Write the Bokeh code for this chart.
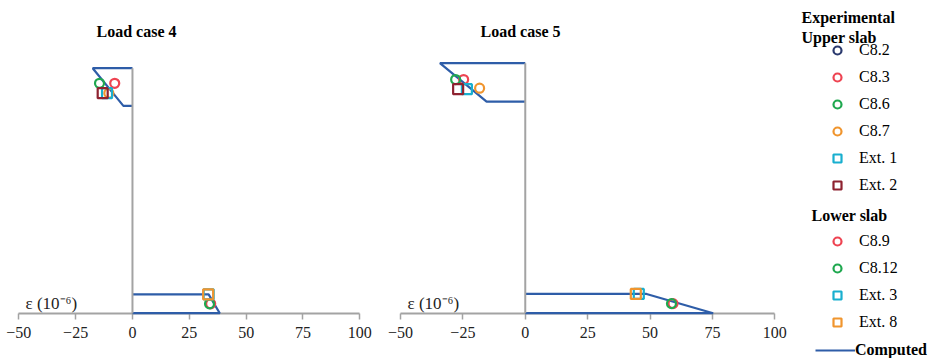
from bokeh.plotting import figure
from bokeh.layouts import row
from bokeh.models import Range1d, FixedTicker, Label, Legend, LegendItem
from bokeh.embed import file_html
from bokeh.resources import INLINE

# ---------------- data ----------------
TICKS = [-50, -25, 0, 25, 50, 75, 100]
TICK_OVERRIDES = {-50: "\u221250", -25: "\u221225"}

# relative heights of the slab faces
H_LOWER_BOT, H_LOWER_TOP, H_UPPER_BOT, H_UPPER_TOP = 0.0, 0.2, 2.2, 2.6

# computed strain profiles (x = strain 1e-6, y = height)
lc4_upper_x = [0, -17.5, -4.0, 0]
lc4_upper_y = [2.6, 2.6, 2.2, 2.2]
lc4_lower_x = [0, 33.5, 38.4, 0]
lc4_lower_y = [0.2, 0.2, 0.0, 0.0]

lc5_upper_x = [0, -34.2, -15.5, 0]
lc5_upper_y = [2.6, 2.6, 2.2, 2.2]
lc5_lower_x = [0, 48.6, 75.3, 0]
lc5_lower_y = [0.2, 0.2, 0.0, 0.0]

# experimental gauges (None = no reading plotted)
upper_names = ["C8.2", "C8.3", "C8.6", "C8.7", "Ext. 1", "Ext. 2"]
upper_markers = ["circle", "circle", "circle", "circle", "square", "square"]
upper_colors = ["#2B3A6E", "#EE4452", "#1FA84F", "#F0952E", "#19AFCF", "#8E2230"]
lc4_upper_eps = [None, -7.8, -14.5, -10.4, -11.2, -13.1]
lc4_upper_h = [None, 2.44, 2.44, 2.335, 2.335, 2.335]
lc5_upper_eps = [None, -24.7, -27.9, -18.3, -23.4, -26.9]
lc5_upper_h = [None, 2.43, 2.43, 2.34, 2.33, 2.33]

lower_names = ["C8.9", "C8.12", "Ext. 3", "Ext. 8"]
lower_markers = ["circle", "circle", "square", "square"]
lower_colors = ["#EE4452", "#1FA84F", "#19AFCF", "#F0952E"]
lc4_lower_eps = [34.4, 33.9, 33.5, 33.3]
lc4_lower_h = [0.1, 0.1, 0.2, 0.2]
lc5_lower_eps = [59.2, 58.6, 45.5, 44.3]
lc5_lower_h = [0.1, 0.1, 0.2, 0.2]

BLUE = "#2E5DA8"
GRAY = "#A3A3A3"
FONT = "Liberation Serif"
NAN = float("nan")


def make_panel(width, xr, yr, title, title_x, eps_x,
               up_x, up_y, lo_x, lo_y, u_eps, u_h, l_eps, l_h):
    p = figure(width=width, height=358, x_range=Range1d(*xr), y_range=Range1d(*yr),
               output_backend="svg", toolbar_location=None,
               min_border=0, min_border_left=0, min_border_right=0,
               min_border_top=0, min_border_bottom=0)
    p.outline_line_color = None
    p.grid.visible = False
    p.yaxis.visible = False
    p.background_fill_color = "white"
    p.border_fill_color = "white"

    ax = p.xaxis[0]
    ax.fixed_location = 0
    ax.bounds = (TICKS[0], TICKS[-1])
    ax.ticker = FixedTicker(ticks=TICKS)
    ax.major_label_overrides = TICK_OVERRIDES
    ax.axis_line_color = GRAY
    ax.axis_line_width = 2
    ax.major_tick_line_color = GRAY
    ax.major_tick_line_width = 1.5
    ax.major_tick_out = 6
    ax.major_tick_in = 0
    ax.minor_tick_line_color = None
    ax.major_label_text_font = FONT
    ax.major_label_text_font_size = "16px"
    ax.major_label_text_color = "#222222"
    ax.major_label_standoff = 8
    ax.level = "underlay"

    comp = p.line(up_x, up_y, line_color=BLUE, line_width=2.2)
    p.line(lo_x, lo_y, line_color=BLUE, line_width=2.2)
    p.line([0, 0], [H_LOWER_BOT, H_UPPER_TOP], line_color=GRAY, line_width=2)

    rends = {}
    for name, mk, col, ex, hy in zip(upper_names, upper_markers, upper_colors, u_eps, u_h):
        xs = [NAN] if ex is None else [ex]
        ys = [NAN] if hy is None else [hy]
        rends[("u", name)] = p.scatter(xs, ys, marker=mk, size=9 if mk == "circle" else 10,
                                       line_color=col, line_width=2.2, fill_color=None)
    for name, mk, col, ex, hy in zip(lower_names, lower_markers, lower_colors, l_eps, l_h):
        rends[("l", name)] = p.scatter([ex], [hy], marker=mk, size=9 if mk == "circle" else 10,
                                       line_color=col, line_width=2.2, fill_color=None)

    p.add_layout(Label(x=title_x, y=327, x_units="screen", y_units="screen", text=title,
                       text_font=FONT, text_font_style="bold", text_font_size="16px",
                       text_align="center", text_baseline="middle", text_color="black"))
    p.add_layout(Label(x=eps_x, y=55, x_units="screen", y_units="screen",
                       text="\u03b5 (10\u207b\u2076)",
                       text_font=FONT, text_font_size="17px",
                       text_align="left", text_baseline="middle", text_color="#222222"))
    return p, rends, comp


p1, _, _ = make_panel(380, (-58.05, 109.1), (-0.4807, 3.3185), "Load case 4", 136, 25,
                      lc4_upper_x, lc4_upper_y, lc4_lower_x, lc4_lower_y,
                      lc4_upper_eps, lc4_upper_h, lc4_lower_eps, lc4_lower_h)
p2, r2, comp2 = make_panel(551, (-58.015, 162.8), (-0.4711, 3.2521), "Load case 5", 140, 27,
                           lc5_upper_x, lc5_upper_y, lc5_lower_x, lc5_lower_y,
                           lc5_upper_eps, lc5_upper_h, lc5_lower_eps, lc5_lower_h)


def legend(items, loc, gw=30, standoff=7, bold=False):
    lg = Legend(items=items, location=loc, orientation="vertical",
                border_line_color=None, background_fill_alpha=0, padding=0, margin=0,
                spacing=7, glyph_width=gw, glyph_height=20, label_height=20,
                label_standoff=standoff, label_text_font=FONT, label_text_font_size="16px",
                label_text_font_style="bold" if bold else "normal",
                label_text_color="black")
    p2.add_layout(lg)


legend([LegendItem(label=n, renderers=[r2[("u", n)]]) for n in upper_names], (442, 163))
legend([LegendItem(label=n, renderers=[r2[("l", n)]]) for n in lower_names], (442, 26))
legend([LegendItem(label="Computed", renderers=[comp2])], (435, -2), gw=40, standoff=0, bold=True)

for txt, x, y in [("Experimental", 421, 341), ("Upper slab", 421, 321), ("Lower slab", 431, 143)]:
    p2.add_layout(Label(x=x, y=y, x_units="screen", y_units="screen", text=txt,
                        text_font=FONT, text_font_style="bold", text_font_size="16px",
                        text_align="left", text_baseline="middle", text_color="black"))

layout = row(p1, p2)
open("out.html", "w").write(file_html(layout, INLINE))
